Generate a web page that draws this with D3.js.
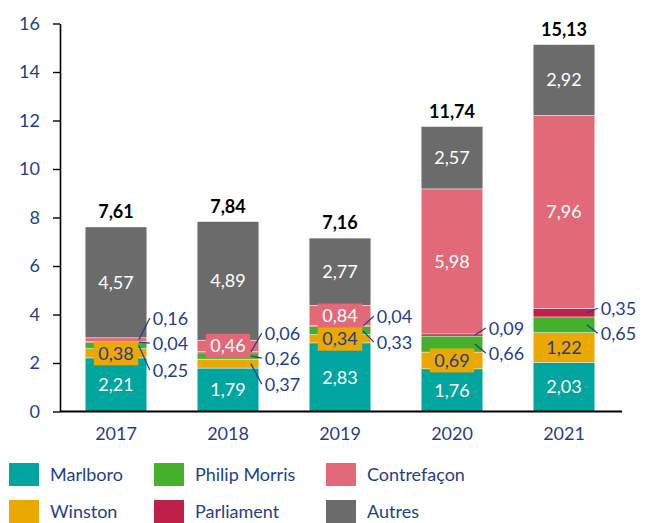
<!DOCTYPE html>
<html><head><meta charset="utf-8">
<script src="https://cdn.jsdelivr.net/npm/d3@7"></script>
<style>
html,body{margin:0;padding:0;background:#fff;}
svg{display:block;font-family:Lato, "Open Sans", sans-serif;}
</style></head>
<body>
<svg id="chart" width="651" height="523"></svg>
<script>
// ---- data ----
const years = ["2017", "2018", "2019", "2020", "2021"];
const seriesNames = ["Marlboro", "Winston", "Philip Morris", "Parliament", "Contrefaçon", "Autres"];
const marlboro     = [2.21, 1.79, 2.83, 1.76, 2.03];
const winston      = [0.38, 0.37, 0.34, 0.69, 1.22];
const philipMorris = [0.25, 0.26, 0.33, 0.66, 0.65];
const parliament   = [0.04, 0.06, 0.04, 0.09, 0.35];
const contrefacon  = [0.16, 0.46, 0.84, 5.98, 7.96];
const autres       = [4.57, 4.89, 2.77, 2.57, 2.92];
const totals       = [7.61, 7.84, 7.16, 11.74, 15.13];
const yTicks = [0, 2, 4, 6, 8, 10, 12, 14, 16];

// ---- style / layout ----
const colors = {
  "Marlboro": "#00A5A0", "Winston": "#EAA800", "Philip Morris": "#45B02C",
  "Parliament": "#C01F4A", "Contrefaçon": "#E26A78", "Autres": "#6B6B6B"
};
const blue = "#1F3F8C";
// labels drawn inside the bar (series -> text colour)
const insideText = { "Marlboro": "#fff", "Winston": blue, "Contrefaçon": "#fff", "Autres": "#fff" };
// callout labels: [yearIndex, series, label level in axis units]
const callouts = [
  [0, "Contrefaçon", 3.85], [0, "Parliament", 2.82], [0, "Philip Morris", 1.71],
  [1, "Parliament", 3.23], [1, "Philip Morris", 2.20], [1, "Winston", 1.13],
  [2, "Parliament", 3.93], [2, "Philip Morris", 2.86],
  [3, "Parliament", 3.44], [3, "Philip Morris", 2.41],
  [4, "Parliament", 4.26], [4, "Philip Morris", 3.23]
];

const table = years.map((yr, i) => ({
  year: yr,
  "Marlboro": marlboro[i], "Winston": winston[i], "Philip Morris": philipMorris[i],
  "Parliament": parliament[i], "Contrefaçon": contrefacon[i], "Autres": autres[i]
}));
const isCallout = (i, s) => callouts.some(c => c[0] === i && c[1] === s);
const fmt = v => d3.format(".2f")(v).replace(".", ",");

const svg = d3.select("#chart");
const x = d3.scaleBand().domain(years).range([60, 620]).paddingInner(0.45).paddingOuter(0.225);
const y = d3.scaleLinear().domain([0, 16]).range([411.5, 23.5]);

const stacked = d3.stack().keys(seriesNames)(table);

// bars
const layers = svg.append("g").selectAll("g").data(stacked).join("g")
  .attr("fill", d => colors[d.key]);
layers.selectAll("rect").data(d => d).join("rect")
  .attr("x", d => x(d.data.year))
  .attr("width", x.bandwidth())
  .attr("y", d => y(d[1]))
  .attr("height", d => y(d[0]) - y(d[1]))
  .attr("stroke", "#ffffff").attr("stroke-width", 0.6).attr("stroke-opacity", 0.7);

// axes
const yAxis = svg.append("g").attr("transform", "translate(60,0)")
  .call(d3.axisLeft(y).tickValues(yTicks).tickSize(7).tickSizeOuter(0).tickPadding(13).tickFormat(d => d));
yAxis.select(".domain").attr("stroke", "#000").attr("stroke-width", 1.6);
yAxis.selectAll(".tick line").attr("stroke", "#000").attr("stroke-width", 1.4);
yAxis.selectAll(".tick text").attr("fill", blue).style("font-size", "18px").style("font-family", "Lato");

const xAxis = svg.append("g").attr("transform", `translate(0,${y(0)})`)
  .call(d3.axisBottom(x).tickSize(0).tickSizeOuter(0).tickPadding(16));
xAxis.select(".domain").attr("d", `M60,0H622`).attr("stroke", "#000").attr("stroke-width", 1.8);
xAxis.selectAll(".tick text").attr("fill", blue).style("font-size", "18px").style("font-family", "Lato");

// inside labels
const labelG = svg.append("g").style("font-size", "18px");
stacked.forEach(layer => {
  if (!insideText[layer.key]) return;
  layer.forEach((d, i) => {
    if (isCallout(i, layer.key)) return;
    const cx = x(d.data.year) + x.bandwidth() / 2;
    const cy = (y(d[0]) + y(d[1])) / 2;
    const g = labelG.append("g");
    const t = g.append("text").attr("x", cx).attr("y", cy).attr("dy", "0.36em")
      .attr("text-anchor", "middle").attr("fill", insideText[layer.key])
      .text(fmt(d.data[layer.key]));
    const bb = t.node().getBBox();
    g.insert("rect", "text").attr("x", bb.x - 4.5).attr("width", bb.width + 9)
      .attr("y", cy - 12).attr("height", 24).attr("fill", colors[layer.key]);
  });
});

// callouts
const cg = svg.append("g").style("font-size", "18px");
callouts.forEach(([i, key, lvl]) => {
  const layer = stacked.find(l => l.key === key);
  const d = layer[i];
  const right = x(years[i]) + x.bandwidth();
  const sy = (y(d[0]) + y(d[1])) / 2;
  const ly = y(lvl);
  cg.append("line").attr("x1", right - 8).attr("y1", sy).attr("x2", right + 3).attr("y2", ly)
    .attr("stroke", blue).attr("stroke-width", 1.2);
  cg.append("text").attr("x", right + 6).attr("y", ly).attr("dy", "0.36em")
    .attr("fill", blue).text(fmt(d.data[key]));
});

// totals
svg.append("g").selectAll("text").data(years).join("text")
  .attr("x", d => x(d) + x.bandwidth() / 2)
  .attr("y", (d, i) => y(d3.sum(seriesNames, k => table[i][k])) - 9)
  .attr("text-anchor", "middle").attr("fill", "#000")
  .style("font-size", "18px").style("font-weight", "bold")
  .text((d, i) => fmt(totals[i]));

// legend
const legendCols = [9, 154, 326];
const legendRows = [463, 500];
const lg = svg.append("g").selectAll("g").data(seriesNames).join("g")
  .attr("transform", (d, i) => `translate(${legendCols[Math.floor(i / 2)]},${legendRows[i % 2]})`);
lg.append("rect").attr("width", 30).attr("height", 23).attr("fill", d => colors[d]);
lg.append("text").attr("x", 41).attr("y", 11.5).attr("dy", "0.36em")
  .attr("fill", blue).style("font-size", "18px").text(d => d);
</script>
</body></html>
